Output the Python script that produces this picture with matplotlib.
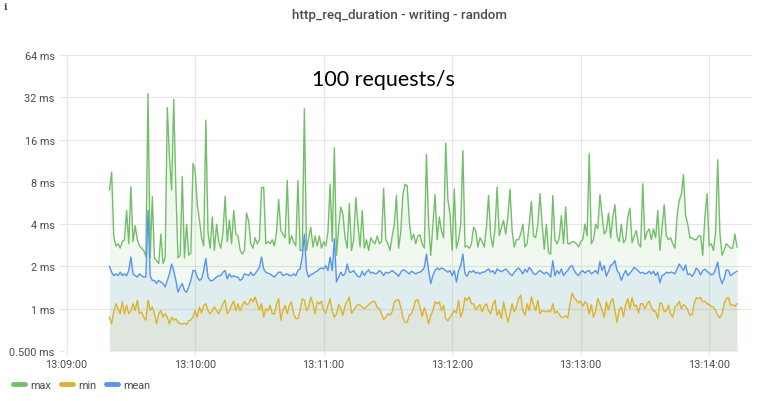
import matplotlib
matplotlib.use("Agg")
import matplotlib.pyplot as plt
import matplotlib.dates as mdates
from matplotlib.lines import Line2D
from matplotlib.ticker import NullLocator
import pandas as pd

# ---------------- data (ms, one sample per second from 13:09:20) ----------------
start_time = "2023-01-01 13:09:20"

max_ms = [
    7.0, 9.4, 3.3, 2.8, 2.9, 2.7, 3.0, 3.1, 5.0, 2.9,
    7.4, 3.0, 3.9, 3.1, 2.8, 2.7, 2.6, 2.35, 34, 2.3,
    6.3, 2.3, 2.2, 2.1, 3.4, 2.1, 2.3, 27, 12, 7.0,
    31, 7.0, 2.3, 2.4, 8.7, 2.3, 4.0, 2.4, 2.5, 10.8,
    9.6, 5.5, 4.3, 3.2, 2.8, 22, 3.5, 2.7, 4.5, 2.6,
    4.0, 3.0, 2.7, 3.5, 6.3, 3.0, 4.3, 2.9, 5.0, 3.4,
    3.3, 2.6, 2.45, 2.6, 4.8, 4.2, 2.9, 2.7, 3.2, 2.9,
    3.1, 7.3, 7.3, 2.9, 3.0, 2.9, 3.1, 2.8, 3.5, 6.0,
    3.6, 3.4, 3.2, 8.2, 2.9, 3.3, 3.0, 2.8, 8.2, 2.6,
    2.6, 26.5, 2.6, 3.2, 3.8, 2.75, 3.3, 2.8, 3.3, 2.7,
    3.0, 2.8, 3.5, 7.7, 3.0, 14, 2.4, 3.8, 5.3, 4.7,
    3.2, 2.7, 5.6, 2.6, 3.1, 6.2, 4.0, 2.75, 5.0, 2.7,
    3.1, 2.6, 3.2, 3.0, 2.9, 3.3, 2.9, 3.0, 7.2, 3.1,
    2.9, 2.6, 3.3, 4.0, 6.4, 2.7, 3.5, 6.5, 7.7, 7.5,
    4.2, 3.1, 3.4, 2.9, 3.3, 3.35, 2.9, 2.7, 12.5, 4.0,
    2.4, 4.0, 6.5, 3.1, 4.5, 3.6, 3.2, 15.1, 6.0, 4.7,
    2.6, 7.1, 2.7, 3.1, 4.0, 13.4, 2.75, 2.8, 2.7, 2.9,
    3.8, 3.6, 2.75, 3.2, 3.0, 2.75, 3.8, 6.4, 3.3, 2.75,
    3.7, 7.35, 3.3, 3.8, 4.25, 3.4, 4.5, 7.1, 3.6, 2.75,
    3.1, 3.1, 3.4, 4.0, 2.75, 2.9, 4.0, 5.8, 3.3, 3.2,
    4.0, 6.6, 4.0, 2.65, 4.0, 2.5, 2.45, 6.4, 3.1, 2.9,
    3.2, 4.6, 2.9, 5.3, 2.9, 2.9, 3.0, 3.0, 2.9, 2.75,
    3.0, 3.1, 4.0, 3.3, 12.7, 2.9, 3.1, 4.0, 3.7, 6.5,
    4.6, 3.4, 3.6, 4.8, 3.2, 4.5, 5.5, 3.3, 3.0, 4.0,
    2.95, 3.1, 4.5, 5.2, 2.95, 3.3, 3.6, 2.9, 2.75, 7.75,
    3.1, 3.5, 3.7, 3.1, 3.7, 3.2, 5.0, 2.6, 3.8, 5.5,
    3.3, 3.1, 3.2, 2.9, 2.7, 4.5, 5.9, 6.5, 9.0, 4.6,
    4.0, 3.2, 3.2, 3.1, 3.1, 3.3, 3.3, 2.4, 4.5, 6.6,
    2.8, 2.9, 2.6, 3.5, 11.5, 3.5, 2.4, 2.6, 2.9, 2.8,
    2.7, 2.7, 3.4, 2.75,
]

mean_ms = [
    2.0, 1.82, 1.72, 1.77, 1.72, 1.82, 1.72, 1.77, 1.72, 1.87,
    2.33, 1.77, 1.72, 1.68, 1.77, 1.72, 1.68, 1.68, 5.0, 1.72,
    1.59, 1.59, 1.51, 1.59, 1.55, 1.51, 1.43, 1.59, 1.77, 2.08,
    1.87, 1.59, 1.31, 1.43, 1.51, 1.35, 1.31, 1.43, 1.59, 1.87,
    1.87, 1.68, 1.59, 1.63, 1.87, 2.28, 1.68, 1.59, 1.58, 1.63,
    1.68, 1.72, 1.72, 1.82, 1.87, 1.63, 1.77, 1.68, 1.72, 1.68,
    1.68, 1.59, 1.63, 1.77, 1.75, 1.72, 1.82, 1.72, 1.77, 1.87,
    1.97, 2.33, 1.92, 1.82, 1.79, 1.77, 1.72, 1.68, 1.75, 1.82,
    1.82, 1.72, 1.75, 1.77, 1.72, 1.72, 1.77, 1.72, 1.87, 1.92,
    2.33, 3.4, 1.87, 1.68, 1.75, 1.77, 1.82, 1.85, 1.92, 1.95,
    1.92, 2.03, 1.87, 2.33, 1.87, 3.15, 1.55, 1.68, 1.82, 1.72,
    1.77, 2.08, 1.82, 1.82, 1.87, 1.77, 1.7, 1.68, 1.85, 1.72,
    1.82, 1.89, 1.79, 1.82, 1.77, 1.79, 1.87, 1.82, 1.72, 1.82,
    1.79, 1.82, 1.87, 1.82, 1.77, 1.7, 1.82, 1.89, 1.87, 1.82,
    1.77, 1.85, 1.81, 1.77, 1.81, 1.82, 1.87, 1.97, 2.45, 1.87,
    1.51, 1.72, 1.87, 1.95, 1.89, 1.95, 1.92, 1.87, 1.82, 1.87,
    1.72, 1.87, 1.55, 1.87, 2.03, 2.45, 1.77, 1.7, 1.85, 1.82,
    1.87, 1.79, 1.82, 1.77, 1.82, 1.82, 1.87, 1.92, 1.82, 1.87,
    1.77, 1.92, 1.87, 1.84, 1.87, 1.92, 1.85, 1.77, 1.72, 1.82,
    1.89, 1.95, 1.87, 1.77, 1.91, 1.82, 1.97, 1.89, 1.77, 1.75,
    1.82, 1.87, 1.82, 1.77, 1.82, 1.77, 1.68, 2.2, 1.72, 1.87,
    1.77, 1.92, 1.72, 1.81, 1.87, 1.99, 2.03, 1.87, 1.77, 1.72,
    1.82, 1.87, 1.79, 1.85, 1.87, 1.77, 1.82, 1.87, 1.77, 2.17,
    1.87, 2.03, 1.7, 1.85, 2.03, 2.08, 2.2, 1.87, 1.79, 1.59,
    1.75, 1.87, 1.72, 1.79, 1.87, 1.97, 1.92, 1.85, 1.79, 1.82,
    1.77, 1.79, 1.85, 1.77, 1.85, 1.72, 1.82, 1.53, 1.72, 1.75,
    1.82, 1.79, 1.82, 1.81, 1.77, 1.92, 2.08, 1.97, 1.87, 2.05,
    1.75, 1.77, 1.7, 1.79, 1.95, 1.87, 1.74, 1.87, 1.91, 1.85,
    1.79, 1.74, 1.77, 1.92, 2.15, 1.68, 1.51, 1.63, 1.89, 1.87,
    1.72, 1.77, 1.81, 1.85,
]

min_ms = [
    0.87, 0.78, 0.95, 1.085, 1.0, 0.92, 1.12, 0.92, 1.06, 0.92,
    0.97, 1.085, 0.97, 1.15, 0.92, 0.95, 0.87, 0.83, 1.15, 0.97,
    1.03, 0.92, 0.78, 0.92, 0.97, 0.87, 0.92, 0.87, 0.78, 0.87,
    0.83, 0.85, 0.8, 0.78, 0.78, 0.79, 0.77, 0.82, 0.83, 0.87,
    0.97, 0.87, 1.03, 0.93, 1.06, 1.085, 0.97, 0.92, 0.97, 1.03,
    0.97, 0.92, 1.0, 1.085, 1.15, 0.92, 0.97, 1.06, 1.13, 0.97,
    1.085, 0.97, 1.06, 1.13, 1.07, 1.085, 1.18, 1.12, 1.21, 1.085,
    0.98, 1.085, 0.87, 1.0, 0.97, 1.06, 0.92, 0.92, 1.085, 1.18,
    0.83, 0.97, 1.06, 0.92, 1.06, 1.12, 0.92, 0.85, 0.85, 0.97,
    1.18, 1.15, 0.97, 1.03, 1.21, 1.085, 0.92, 1.12, 1.085, 1.13,
    0.97, 0.93, 1.06, 1.18, 0.97, 0.87, 0.92, 1.07, 1.0, 0.9,
    1.06, 1.13, 1.21, 0.93, 0.97, 1.03, 1.07, 1.06, 1.03, 1.0,
    1.03, 1.07, 1.1, 1.13, 1.12, 1.02, 1.0, 0.92, 0.84, 0.87,
    0.92, 0.9, 0.95, 1.12, 1.15, 1.16, 1.03, 0.87, 0.8, 0.8,
    0.9, 0.92, 1.02, 1.15, 1.16, 1.02, 0.88, 1.02, 0.92, 0.78,
    0.9, 0.97, 1.12, 1.085, 1.12, 0.97, 1.06, 0.85, 0.82, 0.87,
    0.92, 0.97, 0.93, 1.15, 0.87, 0.97, 1.2, 1.15, 1.21, 1.085,
    1.085, 0.98, 1.03, 1.07, 0.95, 1.04, 1.085, 0.97, 0.92, 1.07,
    1.15, 0.9, 0.97, 0.85, 1.12, 0.95, 0.8, 0.92, 1.085, 0.95,
    1.03, 1.18, 1.25, 0.97, 0.9, 1.085, 0.97, 1.21, 1.07, 0.97,
    1.15, 0.92, 0.97, 0.96, 0.95, 0.97, 0.95, 1.085, 0.93, 0.96,
    0.91, 0.87, 0.87, 0.89, 0.86, 1.085, 1.29, 1.2, 1.15, 1.1,
    1.13, 1.04, 1.12, 1.085, 0.92, 1.07, 0.87, 0.96, 1.18, 1.085,
    0.97, 0.87, 1.12, 0.98, 1.12, 1.18, 0.97, 0.8, 0.98, 1.03,
    0.88, 1.07, 1.18, 1.0, 1.2, 1.04, 1.06, 0.93, 1.085, 1.085,
    1.0, 1.085, 1.13, 1.03, 0.96, 0.96, 0.85, 1.1, 1.085, 0.95,
    0.97, 1.06, 0.92, 0.87, 1.03, 1.06, 1.13, 1.0, 1.07, 1.04,
    0.98, 0.9, 0.91, 1.085, 1.2, 1.18, 1.2, 1.12, 1.13, 1.085,
    1.07, 1.04, 1.03, 0.97, 0.9, 0.86, 0.92, 1.085, 1.18, 1.2,
    1.06, 1.07, 1.04, 1.085,
]

series_names = ["max", "min", "mean"]
y_ticks = [0.5, 1, 2, 4, 8, 16, 32, 64]
y_tick_labels = ["0.500 ms", "1 ms", "2 ms", "4 ms", "8 ms", "16 ms", "32 ms", "64 ms"]
title = "http_req_duration - writing - random"
note = "100 requests/s"

# ---------------- style ----------------
colors = {"max": "#73BF69", "min": "#DDB22E", "mean": "#5794F2"}
text_color = "#464C54"
grid_color = "#E6E6E6"

W, H = 768, 402
fig = plt.figure(figsize=(W / 100, H / 100), dpi=100)
ax = fig.add_axes([63 / W, 1 - 352 / H, (752 - 63) / W, (352 - 56) / H])

times = pd.date_range(start_time, periods=len(max_ms), freq="s").to_pydatetime()
values = {"max": max_ms, "min": min_ms, "mean": mean_ms}
ybottom = y_ticks[0]

for name in series_names:
    ax.fill_between(times, values[name], ybottom, color=colors[name], alpha=0.10, lw=0)
for name in series_names:
    ax.plot(times, values[name], color=colors[name], lw=1.0)

ax.set_yscale("log", base=2)
ax.set_ylim(y_ticks[0], y_ticks[-1])
ax.set_yticks(y_ticks)
ax.set_yticklabels(y_tick_labels)
ax.yaxis.set_minor_locator(NullLocator())

ax.set_xlim(pd.Timestamp("2023-01-01 13:08:58.3").to_pydatetime(),
            pd.Timestamp("2023-01-01 13:14:20").to_pydatetime())
ax.xaxis.set_major_locator(mdates.MinuteLocator(interval=1))
ax.xaxis.set_major_formatter(mdates.DateFormatter("%H:%M:%S"))

ax.grid(True, color=grid_color, lw=0.8)
ax.set_axisbelow(True)
for s in ax.spines.values():
    s.set_visible(False)
ax.tick_params(axis="both", length=3, width=0.8, color=grid_color,
               labelcolor=text_color, labelsize=7.8, pad=3)
for lbl in ax.get_xticklabels() + ax.get_yticklabels():
    lbl.set_fontfamily("Roboto")

fig.text(400 / W, 1 - 15 / H, title, ha="center", va="center", fontsize=9.6,
         color=text_color, family="Roboto", fontweight="medium")
fig.text(6 / W, 1 - 8 / H, "i", ha="center", va="center", fontsize=7,
         color=text_color, family="DejaVu Serif", fontweight="bold")
fig.text(383.5 / W, 1 - 80 / H, note, ha="center", va="center", fontsize=15.5,
         color="black", family="Lato")

handles = [Line2D([], [], color=colors[n], lw=3.5, solid_capstyle="round") for n in series_names]
leg = fig.legend(handles, series_names, loc="center left",
                 bbox_to_anchor=(13 / W, 1 - 386 / H), ncol=3, frameon=False,
                 handlelength=1.1, handletextpad=0.5, columnspacing=0.9,
                 borderpad=0, borderaxespad=0,
                 prop={"family": "Roboto", "size": 7.8})
for t in leg.get_texts():
    t.set_color(text_color)

fig.savefig("out.png", dpi=100)
